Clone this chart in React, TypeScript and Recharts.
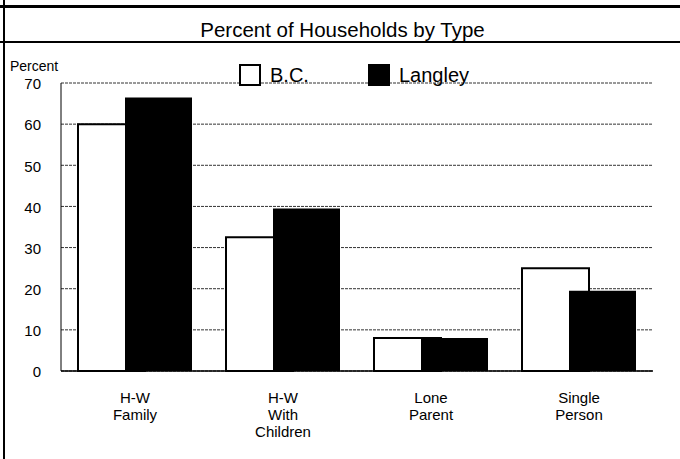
import { BarChart, Bar, XAxis, YAxis, CartesianGrid } from "recharts"

const categories = [["H-W", "Family"], ["H-W", "With", "Children"], ["Lone", "Parent"], ["Single", "Person"]]
const bcValues = [60, 32.5, 8, 25]
const langleyValues = [66.5, 39.5, 8, 19.5]
const yTicks = [0, 10, 20, 30, 40, 50, 60, 70]

const data = categories.map((lines, i) => ({
  name: lines.join(" "),
  bc: bcValues[i],
  langley: langleyValues[i],
}))

const font = "'Liberation Sans', Arial, sans-serif"

function CategoryTick(props: any) {
  const { x, y, index } = props
  const lines = categories[index] || []
  return (
    <text x={x} y={y + 24} textAnchor="middle" fontSize={15} fontFamily={font} fill="#000">
      {lines.map((l, i) => (
        <tspan key={i} x={x} dy={i === 0 ? 0 : 17}>
          {l}
        </tspan>
      ))}
    </text>
  )
}

function LegendBox() {
  const items = [
    { label: "B.C.", fill: "#fff" },
    { label: "Langley", fill: "#000" },
  ]
  return (
    <div style={{ display: "flex", fontFamily: font, fontSize: 20, lineHeight: "22px" }}>
      {items.map((it) => (
        <div key={it.label} style={{ display: "flex", alignItems: "center", width: 129 }}>
          <span
            style={{
              display: "inline-block",
              width: 18,
              height: 18,
              background: it.fill,
              border: "2px solid #000",
              marginRight: 9,
            }}
          />
          <span>{it.label}</span>
        </div>
      ))}
    </div>
  )
}

export default function App() {
  return (
    <div style={{ position: "absolute", left: 0, top: 0, width: 680, height: 459, background: "#fff", overflow: "hidden" }}>
      {/* table frame */}
      <div style={{ position: "absolute", left: 0, top: 5, width: 680, height: 3, background: "#000" }} />
      <div style={{ position: "absolute", left: 3, top: 0, width: 2, height: 459, background: "#000" }} />
      <div style={{ position: "absolute", left: 0, top: 41, width: 680, height: 2, background: "#000" }} />
      <div
        style={{
          position: "absolute",
          left: 5,
          top: 18,
          width: 675,
          height: 24,
          textAlign: "center",
          fontFamily: font,
          fontSize: 20.5,
          lineHeight: "24px",
        }}
      >
        Percent of Households by Type
      </div>
      <div style={{ position: "absolute", left: 10, top: 58, fontFamily: font, fontSize: 14 }}>Percent</div>
      <div style={{ position: "absolute", left: 0, top: 0 }}>
        <BarChart width={680} height={459} data={data} margin={{ top: 83, right: 27, left: 0, bottom: 0 }} barSize={67} barGap={-20}>
          <CartesianGrid vertical={false} stroke="#333" strokeWidth={1} strokeDasharray="3 1" />
          <XAxis dataKey="name" height={88} axisLine={{ stroke: "#000", strokeWidth: 1.5 }} tickLine={false} tick={<CategoryTick />} interval={0} />
          <YAxis
            width={61}
            domain={[0, 70]}
            ticks={yTicks}
            axisLine={{ stroke: "#000", strokeWidth: 1 }}
            tickLine={false}
            tickMargin={14}
            tick={{ fill: "#000", fontSize: 15, fontFamily: font, dy: 1 }}
          />
          <Bar dataKey="bc" name="B.C." fill="#fff" stroke="#000" strokeWidth={2} isAnimationActive={false} />
          <Bar dataKey="langley" name="Langley" fill="#000" isAnimationActive={false} />
        </BarChart>
      </div>
      <div style={{ position: "absolute", top: 64, left: 239 }}>
        <LegendBox />
      </div>
    </div>
  )
}
